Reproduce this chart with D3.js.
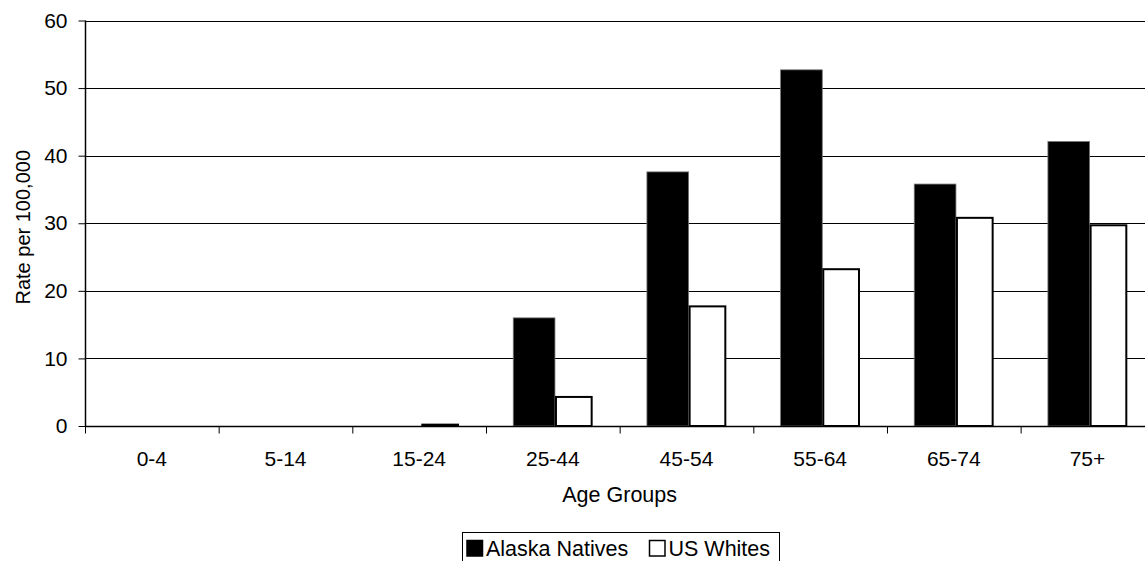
<!DOCTYPE html>
<html>
<head>
<meta charset="utf-8">
<script src="https://cdn.jsdelivr.net/npm/d3@7/dist/d3.min.js"></script>
<style>
  html, body { margin: 0; padding: 0; background: #fff; }
  svg { display: block; }
  text { font-family: "Liberation Sans", Arial, sans-serif; fill: #000; }
</style>
</head>
<body>
<svg id="chart" width="1145" height="561"></svg>
<script>
// ---- data ----
const categories = ["0-4", "5-14", "15-24", "25-44", "45-54", "55-64", "65-74", "75+"];
const alaskaNatives = [0, 0, 0, 16.0, 37.6, 52.7, 35.8, 42.1];
const usWhites = [0, 0, 0.2, 4.3, 17.7, 23.2, 30.8, 29.7];
const seriesNames = ["Alaska Natives", "US Whites"];
const yTicks = [0, 10, 20, 30, 40, 50, 60];

(function () {
// ---- layout ----
const svg = d3.select("#chart");
const pLeft = 85, pRight = 1154.3, pTop = 20.5, pBottom = 426;
const fontSize = 21;

const x0 = d3.scaleBand().domain(categories).range([pLeft, pRight]).padding(0);
const step = x0.step();
const x1 = d3.scaleBand().domain(seriesNames)
  .range([step * 0.204, step * 0.204 + step * 0.624]).padding(0);
const y = d3.scaleLinear().domain([0, 60]).range([pBottom, pTop]);

// gridlines
svg.append("g").selectAll("line").data(yTicks.filter(d => d > 0)).join("line")
  .attr("x1", pLeft).attr("x2", 1145)
  .attr("y1", d => Math.round(y(d)) + 0.5).attr("y2", d => Math.round(y(d)) + 0.5)
  .attr("stroke", "#000").attr("stroke-width", 1);

// bars
const groups = svg.append("g").selectAll("g").data(categories).join("g")
  .attr("transform", c => `translate(${x0(c)},0)`);

groups.append("rect")
  .attr("x", x1("Alaska Natives"))
  .attr("width", x1.bandwidth())
  .attr("y", (c, i) => y(alaskaNatives[i]))
  .attr("height", (c, i) => pBottom - y(alaskaNatives[i]))
  .attr("fill", "#000")
  .attr("stroke", "#777").attr("stroke-width", 0.8)
  .attr("display", (c, i) => alaskaNatives[i] > 0 ? null : "none");

groups.append("rect")
  .attr("x", x1("US Whites") + 1)
  .attr("width", x1.bandwidth() - 6)
  .attr("y", (c, i) => y(usWhites[i]))
  .attr("height", (c, i) => pBottom - y(usWhites[i]))
  .attr("fill", "#fff")
  .attr("stroke", "#000").attr("stroke-width", 2)
  .attr("display", (c, i) => usWhites[i] > 0 ? null : "none");

// y axis
const yAxis = d3.axisLeft(y).tickValues(yTicks).tickSize(7).tickPadding(11).tickFormat(d3.format("d"));
const gy = svg.append("g").attr("transform", `translate(${pLeft + 0.5},0)`).call(yAxis);
gy.select(".domain").attr("stroke", "#000").attr("stroke-width", 1.5).attr("d", `M0,${pTop}V${pBottom}`);
gy.selectAll(".tick line").attr("stroke", "#000");
gy.selectAll(".tick text").style("font-size", fontSize + "px").style("font-family", '"Liberation Sans", Arial, sans-serif');

// x axis
const gx = svg.append("g").attr("transform", `translate(0,${pBottom + 0.5})`);
gx.append("line").attr("x1", pLeft).attr("x2", 1145).attr("stroke", "#000").attr("stroke-width", 1.5);
gx.selectAll("line.tk").data(categories).join("line").attr("class", "tk")
  .attr("x1", c => x0(c) + 0.5).attr("x2", c => x0(c) + 0.5)
  .attr("y1", 0).attr("y2", 7).attr("stroke", "#000");
gx.selectAll("text").data(categories).join("text")
  .attr("x", c => x0(c) + x0.bandwidth() / 2)
  .attr("y", 39.5)
  .attr("text-anchor", "middle")
  .style("font-size", fontSize + "px")
  .text(c => c);

// axis titles
svg.append("text").attr("x", (pLeft + pRight) / 2).attr("y", 502)
  .attr("text-anchor", "middle").style("font-size", "21.5px").text("Age Groups");
svg.append("text").attr("transform", `translate(30,${(pTop + pBottom) / 2 + 4}) rotate(-90)`)
  .attr("text-anchor", "middle").style("font-size", "20px").text("Rate per 100,000");

// legend
const lg = svg.append("g");
lg.append("rect").attr("x", 462.5).attr("y", 532.5).attr("width", 317).attr("height", 40)
  .attr("fill", "#fff").attr("stroke", "#000").attr("stroke-width", 1);
const legendItems = [
  { name: seriesNames[0], fill: "#000", x: 467 },
  { name: seriesNames[1], fill: "#fff", x: 649.5 }
];
const li = lg.selectAll("g").data(legendItems).join("g");
li.append("rect").attr("x", d => d.x).attr("y", 540.5).attr("width", 15.5).attr("height", 15.5)
  .attr("fill", d => d.fill).attr("stroke", "#000").attr("stroke-width", 1.5);
li.append("text").attr("x", d => d.x + 19).attr("y", 556)
  .style("font-size", "21.5px").text(d => d.name);
})();
</script>
</body>
</html>
